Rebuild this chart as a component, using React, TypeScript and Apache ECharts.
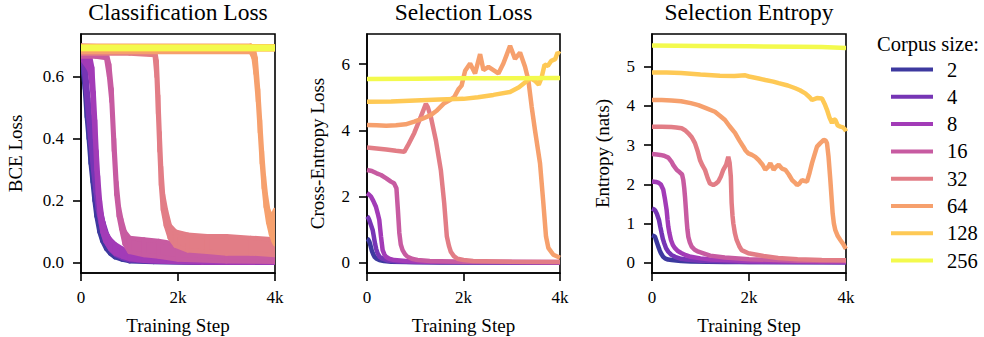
import React, { useEffect, useRef } from 'react';
import * as echarts from 'echarts';

const FONT = 'Liberation Serif, Times New Roman, serif';

const corpusSizes = [2, 4, 8, 16, 32, 64, 128, 256];
const seriesColors = ['#3d399f', '#7635b5', '#a23bb7', '#c75ba1', '#e27d86', '#f6a06d', '#fec955', '#f3fa4d'];

const panelTitles = ['Classification Loss', 'Selection Loss', 'Selection Entropy'];
const yAxisNames = ['BCE Loss', 'Cross-Entropy Loss', 'Entropy (nats)'];
const xAxisName = 'Training Step';
const legendTitle = 'Corpus size:';

const stepTicks = [0, 2000, 4000];
const bceTicks = [0, 0.2, 0.4, 0.6];
const ceTicks = [0, 2, 4, 6];
const entTicks = [0, 1, 2, 3, 4, 5];

// Classification loss: [step, lower edge of noisy band, upper edge of noisy band]
const cls2 = [[0, .68, .70], [40, .62, .67], [80, .56, .62], [120, .47, .53], [160, .40, .46], [200, .32, .38], [240, .26, .31], [280, .20, .25], [320, .15, .19], [380, .10, .14], [440, .07, .10], [520, .045, .07], [600, .03, .05], [700, .018, .035], [850, .01, .022], [1000, .005, .015], [1500, .002, .008], [2500, 0, .004], [4000, 0, .003]];
const cls4 = [[0, .68, .70], [50, .64, .68], [100, .56, .62], [150, .47, .53], [200, .38, .44], [250, .30, .36], [300, .23, .28], [350, .17, .22], [400, .13, .17], [460, .09, .13], [540, .06, .09], [620, .04, .065], [720, .025, .045], [850, .015, .03], [1000, .008, .02], [1500, .003, .01], [2500, .001, .005], [4000, 0, .004]];
const cls8 = [[0, .66, .70], [100, .64, .69], [180, .62, .67], [230, .56, .63], [260, .48, .55], [290, .40, .46], [320, .30, .36], [350, .22, .28], [390, .15, .20], [440, .10, .14], [500, .07, .10], [600, .045, .075], [700, .03, .06], [850, .02, .045], [1000, .012, .035], [1300, .006, .025], [1800, .003, .015], [2500, .001, .01], [4000, 0, .008]];
const cls16 = [[0, .665, .69], [300, .665, .685], [520, .66, .68], [580, .60, .64], [630, .52, .56], [680, .36, .40], [730, .22, .26], [780, .15, .18], [830, .11, .14], [900, .06, .10], [1000, .035, .08], [1300, .025, .075], [1600, .02, .07], [2000, .01, .06], [3000, .005, .05], [4000, .003, .045]];
const cls32 = [[0, .675, .70], [1000, .675, .695], [1520, .67, .69], [1560, .60, .65], [1590, .48, .54], [1620, .36, .42], [1650, .25, .31], [1690, .17, .22], [1750, .12, .17], [1830, .08, .12], [1950, .055, .10], [2200, .04, .09], [2600, .035, .085], [3000, .03, .085], [3500, .03, .08], [4000, .025, .075]];
const cls64 = [[0, .68, .70], [3500, .68, .70], [3560, .66, .69], [3600, .61, .66], [3650, .52, .56], [3690, .42, .46], [3730, .32, .36], [3770, .24, .28], [3810, .18, .22], [3860, .13, .17], [3920, .09, .15], [3970, .07, .16], [4000, .06, .17]];
const cls128 = [[0, .688, .698], [4000, .688, .698]];
const cls256 = [[0, .69, .696], [4000, .69, .696]];

// Selection loss: [step, cross-entropy]
const sel2 = [[0, .72], [25, .70], [50, .63], [75, .50], [100, .36], [130, .25], [160, .17], [200, .12], [255, .08], [350, .05], [500, .03], [800, .02], [1500, .01], [4000, .005]];
const sel4 = [[0, 1.40], [20, 1.37], [47, 1.29], [80, 1.15], [117, .99], [140, .80], [166, .58], [190, .42], [220, .28], [260, .18], [324, .12], [420, .07], [600, .04], [1000, .02], [4000, .01]];
const sel8 = [[0, 2.10], [40, 2.06], [82, 2.00], [130, 1.87], [185, 1.69], [220, 1.50], [255, 1.29], [275, 1.00], [290, .79], [310, .55], [324, .38], [360, .25], [393, .18], [460, .12], [565, .08], [800, .05], [1200, .03], [2000, .02], [4000, .01]];
const sel16 = [[0, 2.80], [100, 2.77], [200, 2.70], [290, 2.65], [400, 2.55], [496, 2.45], [560, 2.40], [610, 2.25], [640, 1.60], [670, .90], [700, .55], [737, .38], [790, .25], [840, .18], [950, .11], [1048, .08], [1300, .05], [2000, .03], [4000, .02]];
const sel32 = [[0, 3.48], [200, 3.45], [400, 3.42], [600, 3.38], [772, 3.35], [850, 3.55], [980, 3.92], [1118, 4.42], [1220, 4.80], [1260, 4.70], [1324, 4.40], [1427, 3.70], [1530, 2.80], [1600, 1.80], [1655, .79], [1700, .50], [1737, .33], [1800, .20], [1875, .12], [2000, .08], [2200, .05], [3000, .03], [4000, .02]];
const sel64 = [[0, 4.16], [200, 4.15], [400, 4.14], [600, 4.15], [800, 4.18], [980, 4.26], [1150, 4.35], [1320, 4.46], [1450, 4.60], [1600, 4.82], [1700, 4.90], [1806, 5.00], [1900, 5.25], [1960, 5.35], [2034, 5.80], [2137, 6.02], [2240, 5.72], [2344, 6.30], [2413, 5.82], [2517, 5.92], [2620, 5.82], [2723, 5.72], [2826, 6.02], [2965, 6.55], [3068, 6.16], [3172, 6.35], [3275, 5.92], [3344, 5.52], [3413, 4.71], [3482, 4.00], [3586, 3.00], [3655, 1.80], [3710, .79], [3758, .45], [3862, .24], [4000, .15]];
const sel128 = [[0, 4.86], [500, 4.87], [1000, 4.90], [1500, 4.93], [2000, 4.95], [2300, 5.00], [2620, 5.07], [2965, 5.16], [3150, 5.30], [3280, 5.45], [3380, 5.58], [3480, 5.50], [3560, 5.38], [3620, 5.60], [3680, 5.98], [3750, 5.95], [3820, 6.10], [3900, 6.15], [3950, 6.35], [4000, 6.30]];
const sel256 = [[0, 5.55], [1000, 5.56], [2000, 5.57], [3000, 5.57], [4000, 5.58]];

// Selection entropy: [step, nats]
const ent2 = [[0, .70], [40, .68], [61, .66], [100, .52], [130, .41], [160, .31], [185, .24], [230, .15], [268, .11], [330, .08], [405, .07], [600, .04], [800, .03], [1500, .02], [4000, .01]];
const ent4 = [[0, 1.38], [40, 1.36], [61, 1.34], [100, 1.25], [144, 1.09], [170, .92], [199, .75], [225, .60], [254, .49], [290, .37], [336, .28], [400, .20], [474, .15], [600, .10], [700, .08], [1000, .05], [2000, .02], [4000, .01]];
const ent8 = [[0, 2.07], [80, 2.06], [130, 2.04], [180, 2.00], [233, 1.86], [270, 1.60], [302, 1.34], [320, 1.10], [336, .92], [360, .75], [391, .58], [430, .45], [474, .37], [540, .29], [611, .24], [700, .19], [800, .15], [1000, .11], [1200, .08], [1600, .06], [2000, .04], [3000, .03], [4000, .02]];
const ent16 = [[0, 2.77], [100, 2.76], [172, 2.75], [250, 2.73], [336, 2.68], [400, 2.58], [439, 2.49], [508, 2.37], [577, 2.30], [620, 2.25], [645, 2.11], [665, 1.90], [680, 1.69], [697, 1.40], [714, 1.09], [730, .85], [749, .66], [780, .52], [818, .41], [880, .33], [955, .28], [1200, .18], [1500, .13], [2000, .09], [3000, .05], [4000, .04]];
const ent32 = [[0, 3.47], [200, 3.47], [400, 3.46], [500, 3.45], [611, 3.43], [680, 3.38], [749, 3.30], [820, 3.20], [886, 3.05], [940, 2.85], [989, 2.62], [1040, 2.48], [1092, 2.37], [1150, 2.15], [1195, 2.02], [1264, 1.98], [1320, 2.02], [1367, 2.07], [1420, 2.20], [1470, 2.37], [1530, 2.50], [1573, 2.70], [1600, 2.55], [1625, 2.20], [1642, 1.52], [1660, 1.20], [1677, 1.00], [1710, .75], [1745, .58], [1800, .42], [1848, .32], [1986, .24], [2300, .17], [2600, .12], [3000, .09], [3500, .07], [4000, .06]];
const ent64 = [[0, 4.15], [200, 4.15], [400, 4.14], [600, 4.12], [800, 4.07], [955, 4.02], [1100, 3.95], [1298, 3.85], [1400, 3.75], [1505, 3.64], [1600, 3.48], [1711, 3.31], [1800, 3.12], [1883, 2.96], [1924, 2.87], [1986, 2.79], [2061, 2.75], [2130, 2.70], [2199, 2.62], [2280, 2.50], [2336, 2.37], [2400, 2.45], [2440, 2.54], [2508, 2.37], [2560, 2.45], [2611, 2.50], [2680, 2.40], [2749, 2.37], [2820, 2.25], [2886, 2.11], [2940, 2.05], [2990, 1.98], [3040, 2.02], [3093, 2.11], [3150, 2.08], [3196, 2.07], [3250, 2.30], [3299, 2.54], [3350, 2.75], [3402, 2.96], [3470, 3.05], [3540, 3.13], [3580, 3.12], [3608, 3.05], [3640, 2.70], [3677, 2.11], [3700, 1.70], [3725, 1.26], [3750, 1.00], [3780, .83], [3830, .68], [3883, .58], [3940, .48], [3986, .38], [4000, .35]];
const ent128 = [[0, 4.85], [300, 4.85], [600, 4.84], [1000, 4.80], [1400, 4.77], [1700, 4.76], [1924, 4.78], [2000, 4.75], [2200, 4.70], [2336, 4.66], [2500, 4.62], [2611, 4.58], [2800, 4.52], [2955, 4.45], [3050, 4.40], [3161, 4.32], [3250, 4.22], [3299, 4.15], [3400, 4.20], [3505, 4.19], [3560, 4.05], [3608, 3.90], [3660, 3.70], [3711, 3.56], [3750, 3.66], [3780, 3.64], [3830, 3.50], [3883, 3.47], [3940, 3.45], [3986, 3.39], [4000, 3.35]];
const ent256 = [[0, 5.54], [1000, 5.53], [2000, 5.52], [3000, 5.51], [3500, 5.50], [4000, 5.48]];

const clsRuns = [cls2, cls4, cls8, cls16, cls32, cls64, cls128, cls256];
const selRuns = [sel2, sel4, sel8, sel16, sel32, sel64, sel128, sel256];
const entRuns = [ent2, ent4, ent8, ent16, ent32, ent64, ent128, ent256];

const GRIDS = [
  { left: 81, top: 34, width: 194, height: 239 },
  { left: 367, top: 34, width: 193, height: 239 },
  { left: 652, top: 34, width: 194, height: 239 },
];
const Y_RANGES = [[-0.0332, 0.7377], [-0.311, 6.91], [-0.263, 5.834]];
const Y_TICKS = [bceTicks, ceTicks, entTicks];
const Y_FMT = [(v: number) => v.toFixed(1), (v: number) => String(v), (v: number) => String(v)];

const TICK_SIZE = 17;
const LABEL_SIZE = 19;
const TITLE_SIZE = 23.5;
const LEGEND_SIZE = 20.5;
const LINE_W = 4.5;

export default function App() {
  const ref = useRef<HTMLDivElement>(null);
  useEffect(() => {
    if (!ref.current) return;
    const chart = echarts.init(ref.current, null, { renderer: 'svg' });

    const axisLineStyle = { color: '#000', width: 1.6 };
    const labelText = { color: '#000', fontFamily: FONT, fontSize: TICK_SIZE, fontWeight: 'normal' };
    const xAxes = GRIDS.map((_, i) => ({
      type: 'value', gridIndex: i, min: 0, max: 4000,
      axisLine: { show: true, onZero: false, lineStyle: axisLineStyle },
      axisTick: { show: true, length: 8, customValues: stepTicks, lineStyle: axisLineStyle },
      axisLabel: {
        ...labelText, customValues: stepTicks, margin: 16,
        formatter: (v: number) => (v === 0 ? '0' : `${v / 1000}k`),
      },
      splitLine: { show: false },
    }));
    const yAxes = GRIDS.map((_, i) => ({
      type: 'value', gridIndex: i, min: Y_RANGES[i][0], max: Y_RANGES[i][1],
      axisLine: { show: true, onZero: false, lineStyle: axisLineStyle },
      axisTick: { show: true, length: 8, customValues: Y_TICKS[i], lineStyle: axisLineStyle },
      axisLabel: { ...labelText, customValues: Y_TICKS[i], margin: 17, formatter: Y_FMT[i] },
      splitLine: { show: false },
    }));

    const series: any[] = [];
    // noisy classification-loss runs: drawn as a filled band between lower and upper edges
    clsRuns.forEach((run, k) => {
      const c = seriesColors[k];
      series.push({
        type: 'custom', name: `cls-${corpusSizes[k]}`, xAxisIndex: 0, yAxisIndex: 0,
        data: run, silent: true, clip: true,
        encode: { x: 0, y: [1, 2] },
        renderItem: (params: any, api: any) => {
          const i = params.dataIndex;
          if (i >= run.length - 1) return null;
          const a = run[i];
          const b = run[i + 1];
          const pts = [
            api.coord([a[0], a[1]]), api.coord([b[0], b[1]]),
            api.coord([b[0], b[2]]), api.coord([a[0], a[2]]),
          ];
          return {
            type: 'polygon', shape: { points: pts },
            style: { fill: c, stroke: c, lineWidth: LINE_W, lineJoin: 'round' },
          };
        },
      });
    });
    [selRuns, entRuns].forEach((runs, pi) => {
      runs.forEach((run, k) => {
        const c = seriesColors[k];
        series.push({
          type: 'line', name: String(corpusSizes[k]), xAxisIndex: pi + 1, yAxisIndex: pi + 1,
          data: run, symbol: 'none', silent: true, color: c,
          lineStyle: { color: c, width: LINE_W },
        });
      });
    });

    const graphics: any[] = [];
    GRIDS.forEach((g, i) => {
      graphics.push({
        type: 'text', x: g.left + g.width / 2, y: 12,
        style: { text: panelTitles[i], font: `${TITLE_SIZE}px ${FONT}`, fill: '#000', align: 'center', verticalAlign: 'middle' },
      });
      graphics.push({
        type: 'text', x: g.left + g.width / 2, y: 325,
        style: { text: xAxisName, font: `${LABEL_SIZE}px ${FONT}`, fill: '#000', align: 'center', verticalAlign: 'middle' },
      });
    });
    const yNameX = [15.5, 317.5, 602.5];
    yNameX.forEach((x, i) => {
      graphics.push({
        type: 'text', x, y: 153.5, rotation: Math.PI / 2,
        style: { text: yAxisNames[i], font: `${LABEL_SIZE}px ${FONT}`, fill: '#000', align: 'center', verticalAlign: 'middle' },
      });
    });
    graphics.push({
      type: 'text', x: 877, y: 44,
      style: { text: legendTitle, font: `${LEGEND_SIZE}px ${FONT}`, fill: '#000', align: 'left', verticalAlign: 'middle' },
    });

    chart.setOption({
      animation: false,
      backgroundColor: '#fff',
      textStyle: { fontFamily: FONT, color: '#000' },
      grid: GRIDS.map((g) => ({ ...g, show: true, borderColor: '#000', borderWidth: 1.6, backgroundColor: 'transparent', containLabel: false })),
      xAxis: xAxes,
      yAxis: yAxes,
      legend: {
        data: corpusSizes.map(String), orient: 'vertical', left: 886, top: 54,
        itemWidth: 42, itemHeight: 4, icon: 'rect', itemGap: 6.3, selectedMode: false,
        textStyle: { fontFamily: FONT, fontSize: LEGEND_SIZE, color: '#000', padding: [0, 0, 0, 9] },
      },
      graphic: graphics,
      series,
    });
    return () => chart.dispose();
  }, []);
  return <div ref={ref} style={{ position: 'fixed', left: 0, top: 0, width: 984, height: 337 }} />;
}
